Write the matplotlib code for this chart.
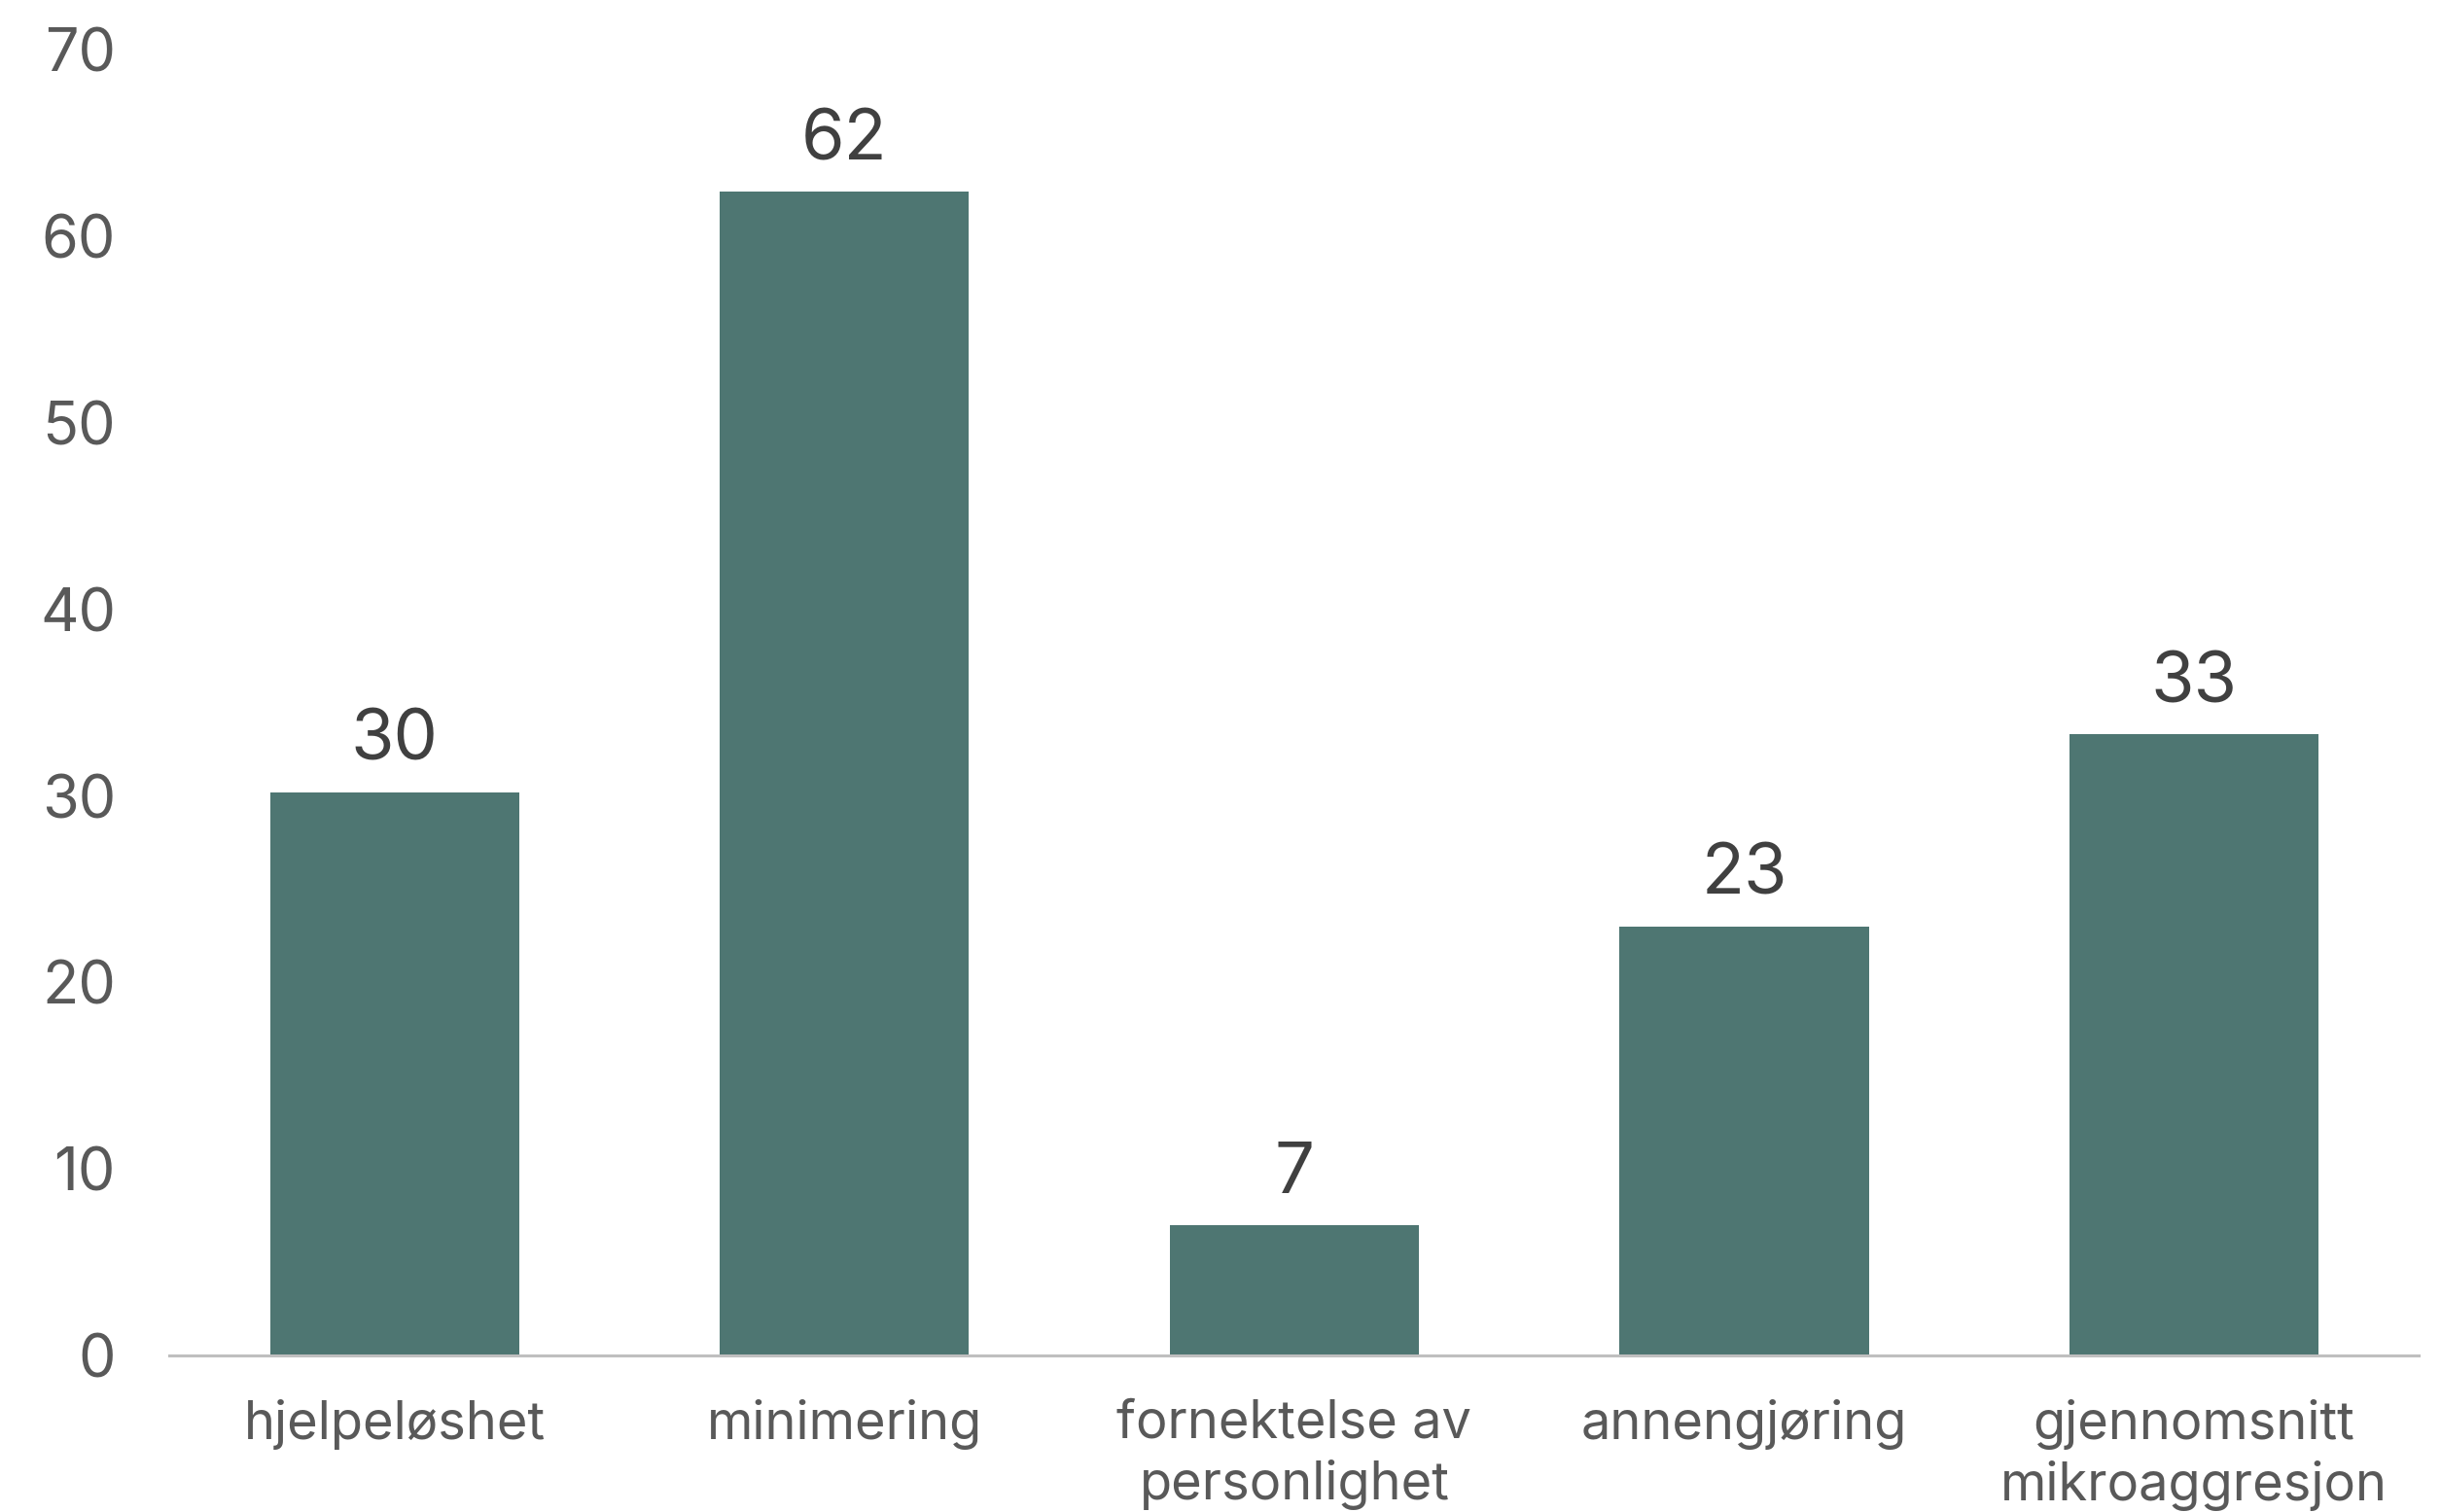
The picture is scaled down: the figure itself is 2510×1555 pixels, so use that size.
import matplotlib
matplotlib.use("Agg")
import matplotlib.pyplot as plt

plt.rcParams['font.family'] = ['Inter', 'DejaVu Sans']

# data
kategorier = ["hjelpeløshet", "minimering", "fornektelse av\npersonlighet",
              "annengjøring", "gjennomsnitt\nmikroaggresjon"]
verdier = [30.2, 62.4, 7.0, 23.0, 33.3]
yticks = [0, 10, 20, 30, 40, 50, 60, 70]

bar_farge = "#4E7672"

fig = plt.figure(figsize=(25.1, 15.55), dpi=100)
ax = fig.add_axes([0.0695, 0.1035, 0.9215, 0.8635])

x = list(range(len(kategorier)))
bars = ax.bar(x, verdier, width=0.554, color=bar_farge, zorder=2)

# verdietiketter over soylene
for b, v in zip(bars, verdier):
    ax.annotate(f"{v:.0f}", (b.get_x() + b.get_width() / 2, b.get_height()),
                xytext=(0, 13), textcoords="offset points",
                ha="center", va="bottom", fontsize=52, color="#404040")

ax.set_xlim(-0.5, len(kategorier) - 0.5)
ax.set_ylim(0, 70)
ax.set_yticks(yticks)
ax.set_yticklabels([str(t) for t in yticks])
ax.set_xticks(x)
ax.set_xticklabels(kategorier, linespacing=1.27)

ax.tick_params(axis="y", length=0, pad=40, labelsize=44, labelcolor="#595959")
ax.tick_params(axis="x", length=0, pad=32, labelsize=39, labelcolor="#595959")

for s in ["top", "right", "left"]:
    ax.spines[s].set_visible(False)
ax.spines["bottom"].set_color("#BFBFBF")
ax.spines["bottom"].set_linewidth(2.2)
ax.spines["bottom"].set_zorder(3)

fig.savefig("out.png", dpi=100, facecolor="white")
